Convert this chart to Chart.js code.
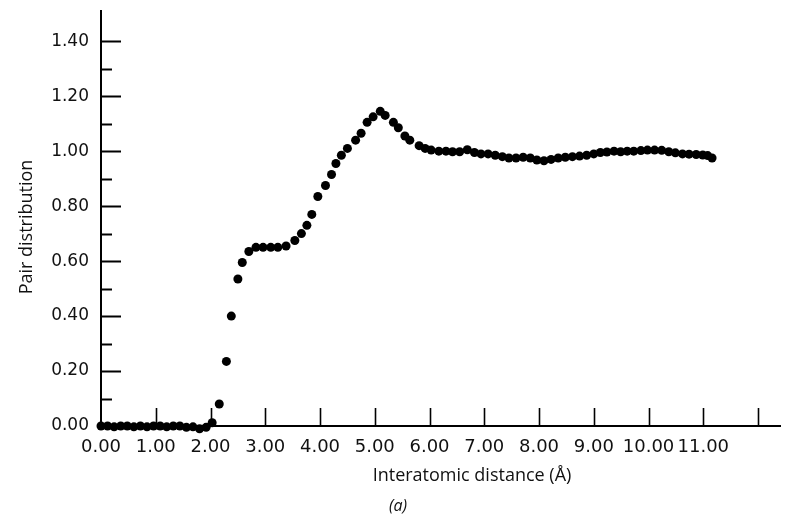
<!DOCTYPE html>
<html>
<head>
<meta charset="utf-8">
<script src="https://cdn.jsdelivr.net/npm/chart.js@4"></script>
<style>
  html, body { margin: 0; padding: 0; background: #fff; }
  canvas { display: block; }
</style>
</head>
<body>
<canvas id="grafico" width="785" height="520"></canvas>
<script>
// datos
const distance = [
  0.00, 0.12, 0.24, 0.36, 0.48, 0.60, 0.72, 0.84, 0.96, 1.08, 1.20, 1.32, 1.44, 1.56, 1.68, 1.80, 1.92, 2.03,
  2.16, 2.29, 2.38, 2.50, 2.58, 2.70, 2.83, 2.96, 3.10, 3.23, 3.38, 3.54, 3.66, 3.76, 3.85, 3.96,
  4.10, 4.21, 4.29, 4.39, 4.50, 4.65, 4.75, 4.86, 4.97, 5.10, 5.19, 5.34, 5.43, 5.55, 5.64, 5.81, 5.92,
  6.03, 6.17, 6.30, 6.42, 6.55, 6.69, 6.82, 6.94, 7.07, 7.20, 7.33, 7.45, 7.58, 7.71, 7.84, 7.96,
  8.09, 8.22, 8.35, 8.48, 8.61, 8.74, 8.87, 9.00, 9.12, 9.24, 9.37, 9.49, 9.61, 9.73, 9.86, 9.98,
  10.11, 10.24, 10.37, 10.49, 10.62, 10.74, 10.87, 10.99, 11.08, 11.16
];
const pairDistribution = [
  0.000, 0.000, -0.003, 0.000, 0.000, -0.003, 0.000, -0.003, 0.000, 0.000, -0.003, 0.000, 0.000, -0.005, -0.003, -0.010, -0.005, 0.012,
  0.080, 0.235, 0.400, 0.535, 0.595, 0.635, 0.650, 0.650, 0.650, 0.650, 0.655, 0.675, 0.700, 0.730, 0.770, 0.835,
  0.875, 0.915, 0.955, 0.985, 1.010, 1.040, 1.065, 1.105, 1.125, 1.145, 1.130, 1.105, 1.085, 1.055, 1.040, 1.020, 1.010,
  1.004, 1.000, 1.000, 0.998, 0.998, 1.005, 0.995, 0.990, 0.990, 0.985, 0.980, 0.975, 0.975, 0.978, 0.975, 0.968,
  0.965, 0.970, 0.975, 0.978, 0.980, 0.982, 0.985, 0.990, 0.995, 0.997, 1.000, 0.998, 1.000, 1.000, 1.002, 1.004,
  1.004, 1.003, 0.998, 0.994, 0.990, 0.989, 0.988, 0.986, 0.984, 0.975
];

const xTickValues = [0, 1, 2, 3, 4, 5, 6, 7, 8, 9, 10, 11, 12];
const xTickLabels = ["0.00", "1.00", "2.00", "3.00", "4.00", "5.00", "6.00", "7.00", "8.00", "9.00", "10.00", "11.00", ""];
const yTickValues = [0, 0.2, 0.4, 0.6, 0.8, 1.0, 1.2, 1.4];
const yTickLabels = ["0.00", "0.20", "0.40", "0.60", "0.80", "1.00", "1.20", "1.40"];
const yMinorValues = [0.1, 0.3, 0.5, 0.7, 0.9, 1.1, 1.3];

const xTitle = "Interatomic distance (Å)";
const yTitle = "Pair distribution";
const panelLabel = "(a)";

const tickFont = "DejaVu Sans";
const titleFont = "Open Sans";

// marcas hacia adentro y textos de los ejes
const decoracionEjes = {
    id: "decoracionEjes",
    afterDraw(chart) {
        const { ctx, scales: { x, y } } = chart;
        const left = x.left;
        const bottom = y.bottom;
        ctx.save();
        ctx.strokeStyle = "#000";
        ctx.lineCap = "butt";

        ctx.lineWidth = 2;
        yTickValues.forEach(v => {
            const py = Math.round(y.getPixelForValue(v)) + 0.5;
            ctx.beginPath(); ctx.moveTo(left, py); ctx.lineTo(left + 20, py); ctx.stroke();
        });
        yMinorValues.forEach(v => {
            const py = Math.round(y.getPixelForValue(v)) + 0.5;
            ctx.beginPath(); ctx.moveTo(left, py); ctx.lineTo(left + 11, py); ctx.stroke();
        });

        ctx.lineWidth = 1.6;
        xTickValues.slice(1).forEach(v => {
            const px = Math.round(x.getPixelForValue(v)) + 0.5;
            ctx.beginPath(); ctx.moveTo(px, bottom); ctx.lineTo(px, bottom - 18); ctx.stroke();
        });

        ctx.fillStyle = "#111";
        ctx.textAlign = "center";
        ctx.textBaseline = "middle";
        ctx.font = `18px "${titleFont}"`;
        ctx.fillText(xTitle, 472, 476);

        ctx.font = `italic 16px "${titleFont}"`;
        ctx.fillText(panelLabel, 398, 506);

        ctx.translate(27, 227);
        ctx.rotate(-Math.PI / 2);
        ctx.font = `18px "${titleFont}"`;
        ctx.fillText(yTitle, 0, 0);
        ctx.restore();
    }
};

const puntos = distance.map((d, i) => ({ x: d, y: pairDistribution[i] }));

new Chart(document.getElementById("grafico").getContext("2d"), {
    type: "scatter",
    data: {
        datasets: [{
            data: puntos,
            backgroundColor: "#000",
            borderWidth: 0,
            pointRadius: 4.5,
            clip: false
        }]
    },
    options: {
        responsive: false,
        animation: false,
        layout: { padding: { top: 11, right: 0, bottom: 0, left: 0 } },
        plugins: {
            legend: { display: false },
            tooltip: { enabled: false }
        },
        scales: {
            x: {
                type: "linear",
                min: 0,
                max: 12.41,
                afterFit: scale => {
                    scale.height = 94;
                    scale.paddingLeft = 0;
                    scale.paddingRight = 0;
                },
                afterBuildTicks: scale => { scale.ticks = xTickValues.map(v => ({ value: v })); },
                grid: { display: false, drawTicks: false },
                border: { display: true, color: "#000", width: 2 },
                ticks: {
                    padding: 11,
                    autoSkip: false,
                    maxRotation: 0,
                    color: "#111",
                    font: { family: tickFont, size: 18 },
                    callback: (v, i) => xTickLabels[i]
                }
            },
            y: {
                type: "linear",
                min: 0,
                max: 1.51,
                afterFit: scale => {
                    scale.width = 101;
                    scale.paddingTop = 0;
                    scale.paddingBottom = 0;
                },
                afterBuildTicks: scale => { scale.ticks = yTickValues.map(v => ({ value: v })); },
                grid: { display: false, drawTicks: false },
                border: { display: true, color: "#000", width: 2 },
                ticks: {
                    padding: 12,
                    color: "#111",
                    font: { family: tickFont, size: 17 },
                    callback: (v, i) => yTickLabels[i]
                }
            }
        }
    },
    plugins: [decoracionEjes]
});
</script>
</body>
</html>
